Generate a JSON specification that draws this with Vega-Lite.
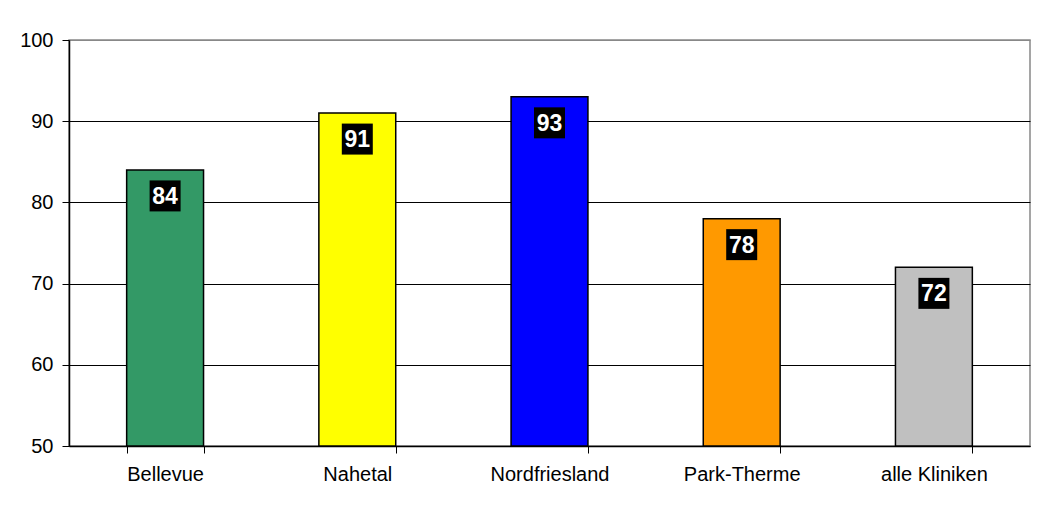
{
  "$schema": "https://vega.github.io/schema/vega-lite/v6.json",
  "width": 961,
  "height": 406,
  "autosize": "none",
  "padding": {"left": 69, "top": 40, "right": 13, "bottom": 76},
  "background": "white",
  "config": {
    "font": "Liberation Sans",
    "view": {"stroke": "#888888", "strokeWidth": 1.5}
  },
  "data": {
    "values": [
      {"klinik": "Bellevue", "wert": 84, "farbe": "#339966"},
      {"klinik": "Nahetal", "wert": 91, "farbe": "#FFFF00"},
      {"klinik": "Nordfriesland", "wert": 93, "farbe": "#0000FF"},
      {"klinik": "Park-Therme", "wert": 78, "farbe": "#FF9900"},
      {"klinik": "alle Kliniken", "wert": 72, "farbe": "#C0C0C0"}
    ]
  },
  "encoding": {
    "x": {
      "field": "klinik",
      "type": "nominal",
      "sort": null,
      "scale": {"paddingInner": 0.6, "paddingOuter": 0.3},
      "axis": {
        "title": null,
        "labelAngle": 0,
        "labelFontSize": 20,
        "labelColor": "black",
        "labelPadding": 11,
        "tickBand": "extent",
        "tickSize": 7,
        "tickColor": "black",
        "domainColor": "black",
        "domainWidth": 1.5,
        "grid": false
      }
    }
  },
  "layer": [
    {
      "mark": {"type": "bar", "stroke": "black", "strokeWidth": 1.5},
      "encoding": {
        "y": {
          "field": "wert",
          "type": "quantitative",
          "scale": {"domain": [50, 100], "nice": false, "zero": false},
          "axis": {
            "title": null,
            "values": [50, 60, 70, 80, 90, 100],
            "labelFontSize": 20,
            "labelColor": "black",
            "labelPadding": 9,
            "tickSize": 7,
            "tickColor": "black",
            "domainColor": "black",
            "domainWidth": 1.5,
            "grid": true,
            "gridColor": {"condition": {"test": "datum.value === 100", "value": "#888888"}, "value": "black"},
            "gridWidth": 1
          }
        },
        "y2": {"datum": 50},
        "color": {"field": "farbe", "type": "nominal", "scale": null, "legend": null}
      }
    },
    {
      "mark": {"type": "point", "shape": "square", "filled": true, "size": 961, "color": "black", "opacity": 1, "yOffset": 26},
      "encoding": {
        "y": {"field": "wert", "type": "quantitative"}
      }
    },
    {
      "mark": {"type": "text", "color": "white", "fontWeight": "bold", "fontSize": 23, "baseline": "middle", "align": "center", "yOffset": 27},
      "encoding": {
        "y": {"field": "wert", "type": "quantitative"},
        "text": {"field": "wert", "type": "quantitative"}
      }
    }
  ]
}
